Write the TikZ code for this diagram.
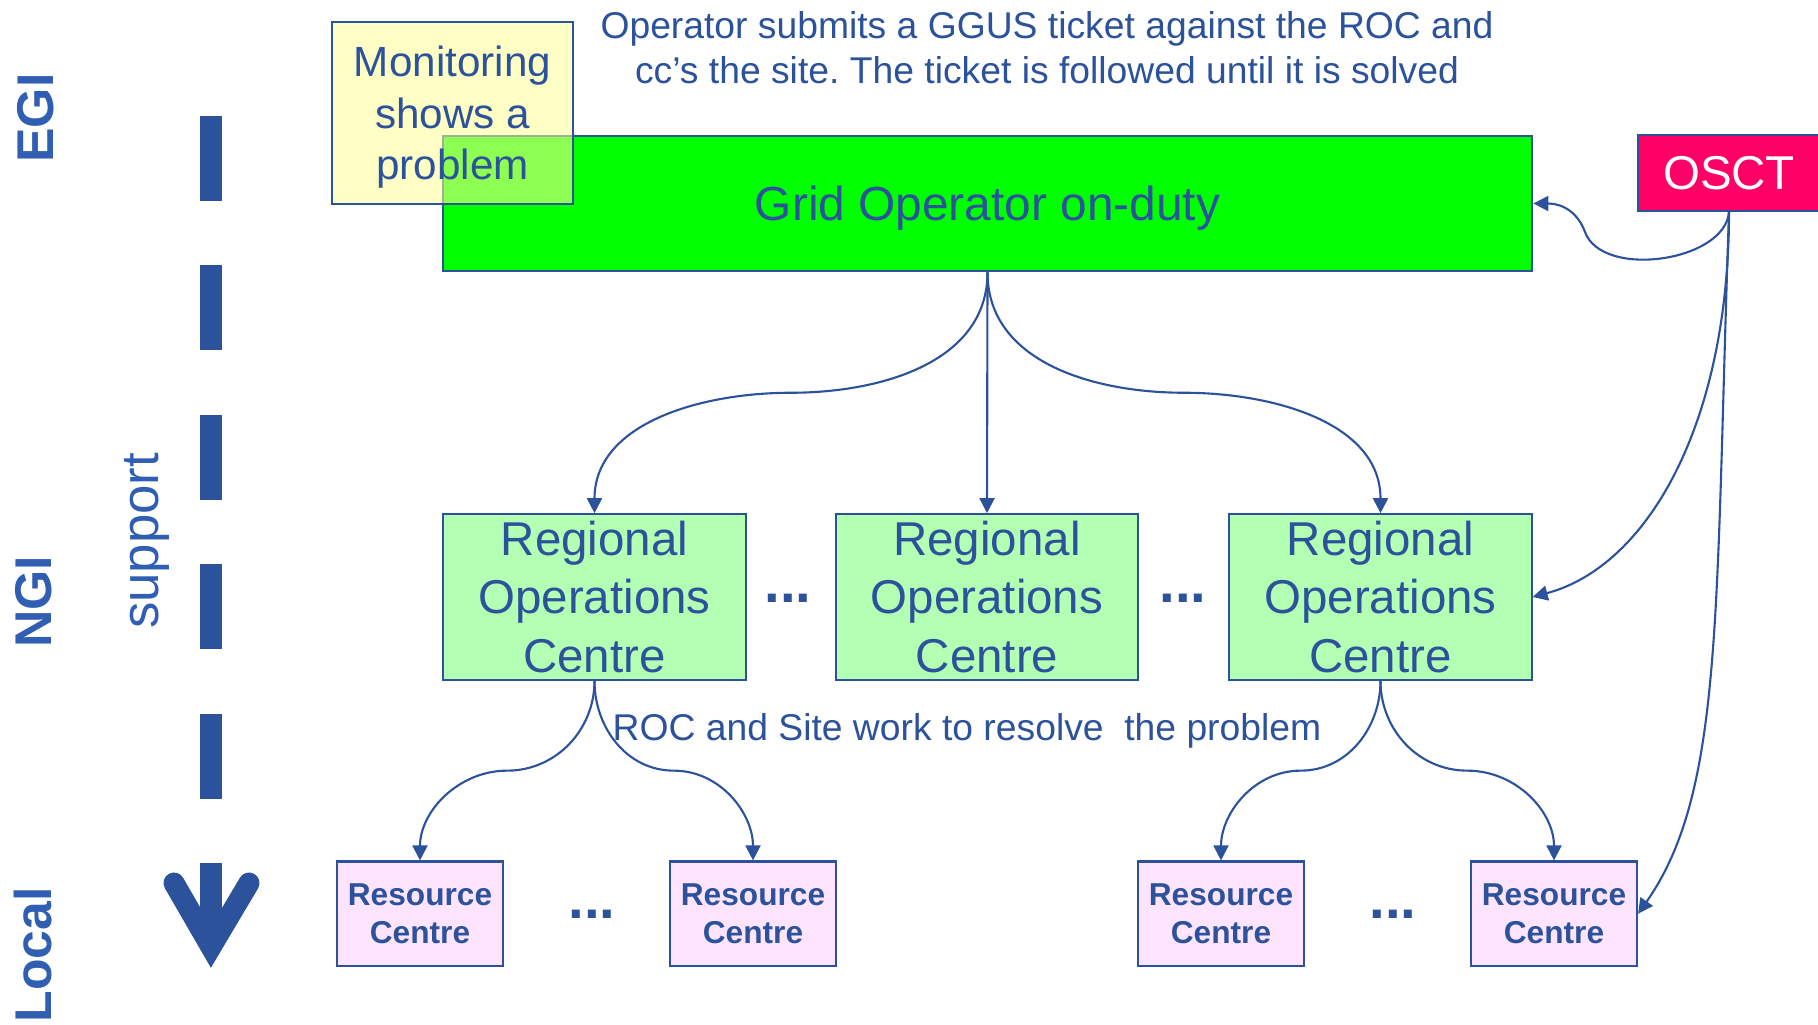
\documentclass[tikz,border=0pt]{standalone}
\usepackage{fontspec}
\setmainfont{Liberation Sans}
\usetikzlibrary{arrows.meta,calc}
\definecolor{egiblue}{RGB}{44,82,156}
\definecolor{lblblue}{RGB}{48,94,178}
\definecolor{godgreen}{RGB}{0,255,0}
\definecolor{rocgreen}{RGB}{179,255,179}
\definecolor{rcpink}{RGB}{255,228,255}
\definecolor{monyellow}{RGB}{255,255,150}
\definecolor{osctred}{RGB}{255,0,102}
\frenchspacing

\begin{document}
\begin{tikzpicture}[x=0.01cm, y=0.01cm,
  box/.style={draw=egiblue, line width=0.6pt, inner sep=0pt, align=center, text=egiblue},
  roc/.style={box, fill=rocgreen, minimum width=3.02cm, minimum height=1.655cm, font=\fontsize{13.5}{16.5}\selectfont},
  rc/.style={box, fill=rcpink, minimum width=1.66cm, minimum height=1.045cm, font=\bfseries\fontsize{9}{10.6}\selectfont},
  more/.style={text=egiblue, anchor=base, inner sep=0pt, font=\bfseries\fontsize{16}{16}\selectfont},
  tier/.style={text=lblblue, rotate=90, inner sep=0pt, font=\bfseries\fontsize{14.7}{14.7}\selectfont},
  link/.style={draw=egiblue, line width=0.6pt, -{Triangle[length=0.15cm, width=0.15cm]}}
]
\useasboundingbox (0,0) rectangle (1818,-1024);

% levels and the support arrow
\node[tier] (egi) at (36,-118) {EGI};
\node[tier] (ngi) at (34,-602) {NGI};
\node[tier] (local) at (33,-955) {Local};
\node[tier, font=\fontsize{15}{15}\selectfont] (support) at (147,-541) {support};
\draw[egiblue, line width=0.21cm, dash pattern=on 0.85cm off 0.643cm] (211,-116) -- (211,-948);
\draw[egiblue, line width=0.21cm, line cap=round, line join=miter] (174,-883) -- (211,-947) -- (249,-883);

% top
\node[text=egiblue, align=center, inner sep=0pt, font=\fontsize{10.6}{12.8}\selectfont] (ticket) at (1047,-48) {Operator submits a GGUS ticket against the ROC and\\cc’s the site. The ticket is followed until it is solved};
\node[box, fill=godgreen, minimum width=10.89cm, minimum height=1.355cm, text depth=0pt, font=\fontsize{13.6}{16}\selectfont] (god) at (987.5,-203.5) {Grid Operator on-duty};
\node[box, fill=monyellow, fill opacity=0.55, text opacity=1, minimum width=2.41cm, minimum height=1.82cm, text depth=0pt, font=\fontsize{12}{14.6}\selectfont] (mon) at (452.5,-113) {Monitoring\\shows a\\problem};
\node[box, fill=osctred, text=white, minimum width=1.82cm, minimum height=0.76cm, font=\fontsize{13.5}{16}\selectfont] (osct) at (1729,-173) {OSCT};

% regional operations centres
\node[roc] (roc1) at (594.5,-597) {Regional\\Operations\\Centre};
\node[roc] (roc2) at (987,-597) {Regional\\Operations\\Centre};
\node[roc] (roc3) at (1380.5,-597) {Regional\\Operations\\Centre};
\node[more] (m1) at (788,-602) {...};
\node[more] (m2) at (1183,-602) {...};

\node[text=egiblue, anchor=base west, inner sep=0pt, font=\fontsize{10.6}{12}\selectfont] (work) at (612,-740) {ROC and Site work to resolve\ \ the problem};

% resource centres
\node[rc] (rc1) at (420,-913.75) {Resource\\Centre};
\node[rc] (rc2) at (753,-913.75) {Resource\\Centre};
\node[rc] (rc3) at (1221,-913.75) {Resource\\Centre};
\node[rc] (rc4) at (1554,-913.75) {Resource\\Centre};
\node[more] (m3) at (592,-918) {...};
\node[more] (m4) at (1393,-918) {...};

\draw[link] (god.south) to[out=-90,in=0] ($(god.south)!.5!(roc1.north)$) to[out=180,in=90] (roc1.north);
\draw[link] (god.south) -- (roc2.north);
\draw[link] (god.south) to[out=-90,in=180] ($(god.south)!.5!(roc3.north)$) to[out=0,in=90] (roc3.north);

\draw[link] (roc1.south) to[out=-90,in=0] ($(roc1.south)!.5!(rc1.north)$) to[out=180,in=90] (rc1.north);
\draw[link] (roc1.south) to[out=-90,in=180] ($(roc1.south)!.5!(rc2.north)$) to[out=0,in=90] (rc2.north);
\draw[link] (roc3.south) to[out=-90,in=0] ($(roc3.south)!.5!(rc3.north)$) to[out=180,in=90] (rc3.north);
\draw[link] (roc3.south) to[out=-90,in=180] ($(roc3.south)!.5!(rc4.north)$) to[out=0,in=90] (rc4.north);

\coordinate (kink) at (1585,-232);
\draw[link] (osct.south) to[out=-95, in=-70, out distance=0.5cm, in distance=0.5cm] (kink) to[out=110, in=0, out distance=0.2cm, in distance=0.3cm] (god.east);
\draw[link] (osct.south) to[out=-90, in=15, out distance=2.1cm, in distance=1.2cm] (roc3.east);
\draw[link] (osct.south) to[out=-92, in=55, out distance=4cm, in distance=1.5cm] (rc4.east);

\end{tikzpicture}
\end{document}
